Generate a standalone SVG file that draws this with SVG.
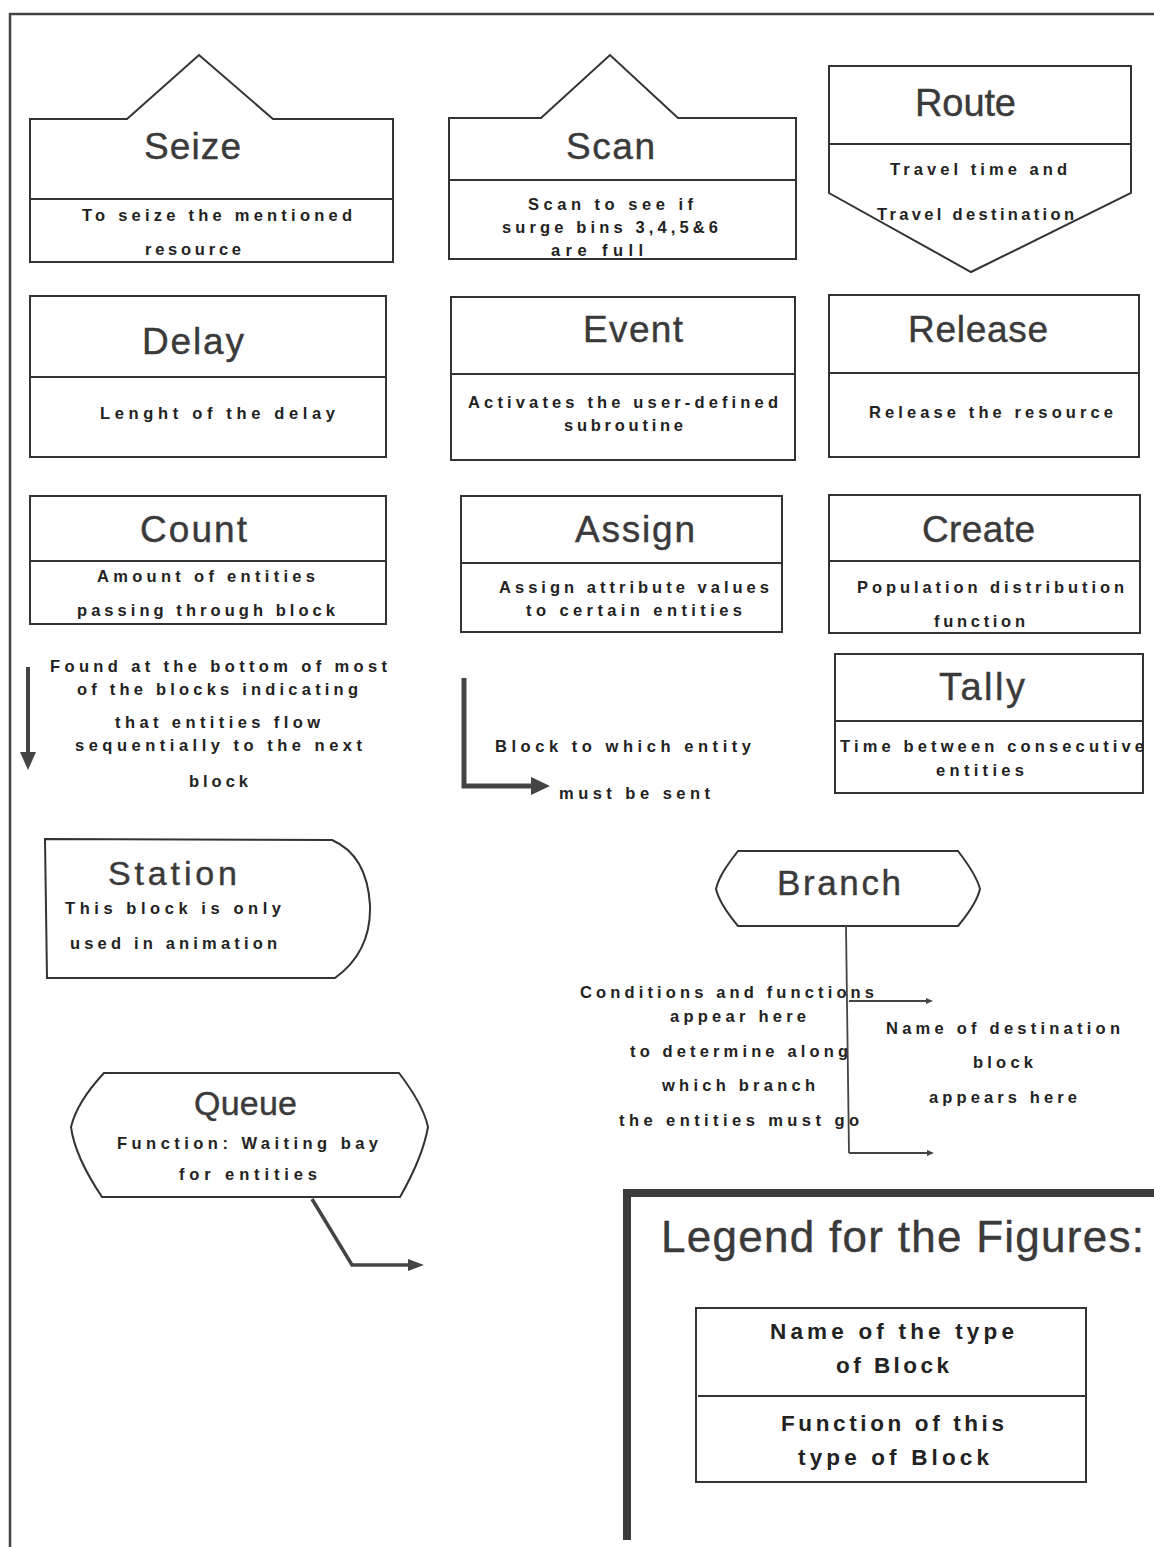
<svg xmlns="http://www.w3.org/2000/svg" width="1154" height="1547" viewBox="0 0 1154 1547">
<style>
.bx{fill:#fff;stroke:#333;stroke-width:2;stroke-linejoin:miter}
.dv{stroke:#333;stroke-width:2;fill:none}
.tt{font-family:"Liberation Sans",Arial,sans-serif;font-size:37px;fill:#3a3a3a;stroke:#3a3a3a;stroke-width:0.4}
.ds{font-family:"Liberation Sans",Arial,sans-serif;font-size:16.5px;font-weight:bold;fill:#222}
.lg{font-family:"Liberation Sans",Arial,sans-serif;font-size:22.5px;font-weight:bold;fill:#222}
.cn{fill:none;stroke:#444;stroke-linejoin:miter}
.ah{fill:#444;stroke:none}
</style>
<rect x="0" y="0" width="1154" height="1547" fill="#fff"/>
<g id="page-frame">
<path d="M10,1547 L10,14 L1154,14" fill="none" stroke="#444" stroke-width="2.5"/>
</g>

<g id="seize">
<path class="bx" d="M30,119 L127,119 L199,55 L273,119 L393,119 L393,262 L30,262 Z"/>
<line class="dv" x1="30" y1="199" x2="393" y2="199"/>
<text class="tt" x="144" y="159" textLength="97" lengthAdjust="spacing">Seize</text>
<text class="ds" x="82" y="221" textLength="270" lengthAdjust="spacing">To seize the mentioned</text>
<text class="ds" x="145" y="255" textLength="96" lengthAdjust="spacing">resource</text>
</g>

<g id="scan">
<path class="bx" d="M449,118 L541,118 L610,55 L678,118 L796,118 L796,259 L449,259 Z"/>
<line class="dv" x1="449" y1="180" x2="796" y2="180"/>
<text class="tt" x="566" y="159" textLength="89" lengthAdjust="spacing">Scan</text>
<text class="ds" x="528" y="210" textLength="165" lengthAdjust="spacing">Scan to see if</text>
<text class="ds" x="502" y="233" textLength="216" lengthAdjust="spacing">surge bins 3,4,5&amp;6</text>
<text class="ds" x="551" y="256" textLength="92" lengthAdjust="spacing">are full</text>
</g>

<g id="route">
<path class="bx" d="M829,66 L1131,66 L1131,193 L971,272 L829,193 Z"/>
<line class="dv" x1="829" y1="144" x2="1131" y2="144"/>
<text class="tt" x="915" y="116" textLength="101" lengthAdjust="spacing" style="font-size:38px">Route</text>
<text class="ds" x="890" y="175" textLength="177" lengthAdjust="spacing">Travel time and</text>
<text class="ds" x="877" y="220" textLength="197" lengthAdjust="spacing">Travel destination</text>
</g>

<g id="delay">
<rect class="bx" x="30" y="296" width="356" height="161"/>
<line class="dv" x1="30" y1="377" x2="386" y2="377"/>
<text class="tt" x="142" y="354" textLength="102" lengthAdjust="spacing">Delay</text>
<text class="ds" x="100" y="419" textLength="235" lengthAdjust="spacing">Lenght of the delay</text>
</g>

<g id="event">
<rect class="bx" x="451" y="297" width="344" height="163"/>
<line class="dv" x1="451" y1="374" x2="795" y2="374"/>
<text class="tt" x="583" y="342" textLength="100" lengthAdjust="spacing">Event</text>
<text class="ds" x="468" y="408" textLength="310" lengthAdjust="spacing">Activates the user-defined</text>
<text class="ds" x="564" y="431" textLength="119" lengthAdjust="spacing">subroutine</text>
</g>

<g id="release">
<rect class="bx" x="829" y="295" width="310" height="162"/>
<line class="dv" x1="829" y1="373" x2="1139" y2="373"/>
<text class="tt" x="908" y="342" textLength="140" lengthAdjust="spacing">Release</text>
<text class="ds" x="869" y="418" textLength="244" lengthAdjust="spacing">Release the resource</text>
</g>

<g id="count">
<rect class="bx" x="30" y="496" width="356" height="128"/>
<line class="dv" x1="30" y1="561" x2="386" y2="561"/>
<text class="tt" x="140" y="542" textLength="107" lengthAdjust="spacing">Count</text>
<text class="ds" x="97" y="582" textLength="218" lengthAdjust="spacing">Amount of entities</text>
<text class="ds" x="77" y="616" textLength="258" lengthAdjust="spacing">passing through block</text>
</g>

<g id="assign">
<rect class="bx" x="461" y="496" width="321" height="136"/>
<line class="dv" x1="461" y1="563" x2="782" y2="563"/>
<text class="tt" x="575" y="542" textLength="120" lengthAdjust="spacing">Assign</text>
<text class="ds" x="499" y="593" textLength="270" lengthAdjust="spacing">Assign attribute values</text>
<text class="ds" x="526" y="616" textLength="216" lengthAdjust="spacing">to certain entities</text>
</g>

<g id="create">
<rect class="bx" x="829" y="495" width="311" height="138"/>
<line class="dv" x1="829" y1="561" x2="1140" y2="561"/>
<text class="tt" x="922" y="542" textLength="113" lengthAdjust="spacing">Create</text>
<text class="ds" x="857" y="593" textLength="267" lengthAdjust="spacing">Population distribution</text>
<text class="ds" x="934" y="627" textLength="91" lengthAdjust="spacing">function</text>
</g>

<g id="tally">
<rect class="bx" x="835" y="654" width="308" height="139"/>
<line class="dv" x1="835" y1="721" x2="1143" y2="721"/>
<text class="tt" x="939" y="700" textLength="86" lengthAdjust="spacing" style="font-size:38px">Tally</text>
<text class="ds" x="840" y="752" textLength="304" lengthAdjust="spacing">Time between consecutive</text>
<text class="ds" x="936" y="776" textLength="88" lengthAdjust="spacing">entities</text>
</g>

<g id="flow-note">
<text class="ds" x="50" y="672" textLength="337" lengthAdjust="spacing">Found at the bottom of most</text>
<text class="ds" x="77" y="695" textLength="281" lengthAdjust="spacing">of the blocks indicating</text>
<text class="ds" x="115" y="728" textLength="205" lengthAdjust="spacing">that entities flow</text>
<text class="ds" x="75" y="751" textLength="287" lengthAdjust="spacing">sequentially to the next</text>
<text class="ds" x="189" y="787" textLength="59" lengthAdjust="spacing">block</text>
</g>

<g id="send-note">
<text class="ds" x="495" y="752" textLength="256" lengthAdjust="spacing">Block to which entity</text>
<text class="ds" x="559" y="799" textLength="151" lengthAdjust="spacing">must be sent</text>
</g>

<g id="station">
<path class="bx" d="M45,839 L332,840 C355,850 368,872 370,905 C371,935 360,960 335,978 L47,978 Z"/>
<text class="tt" x="108" y="885" textLength="129" lengthAdjust="spacing" style="font-size:34px">Station</text>
<text class="ds" x="65" y="914" textLength="216" lengthAdjust="spacing">This block is only</text>
<text class="ds" x="70" y="949" textLength="207" lengthAdjust="spacing">used in animation</text>
</g>

<g id="queue">
<path class="bx" d="M104,1073 L399,1073 C412,1090 424,1108 428,1127 C424,1150 412,1176 400,1197 L102,1197 C88,1176 74,1150 71,1127 C76,1106 90,1088 104,1073 Z"/>
<text class="tt" x="194" y="1115" textLength="103" lengthAdjust="spacing" style="font-size:34px">Queue</text>
<text class="ds" x="117" y="1149" textLength="261" lengthAdjust="spacing">Function: Waiting bay</text>
<text class="ds" x="179" y="1180" textLength="138" lengthAdjust="spacing">for entities</text>
</g>

<g id="branch">
<path class="bx" d="M738,851 L958,851 C968,864 977,877 980,889 C977,902 968,914 958,926 L738,926 C728,914 719,902 716,889 C719,876 728,864 738,851 Z"/>
<text class="tt" x="777" y="895" textLength="124" lengthAdjust="spacing" style="font-size:35px">Branch</text>
</g>

<g id="branch-notes">
<text class="ds" x="580" y="998" textLength="294" lengthAdjust="spacing">Conditions and functions</text>
<text class="ds" x="670" y="1022" textLength="136" lengthAdjust="spacing">appear here</text>
<text class="ds" x="630" y="1057" textLength="218" lengthAdjust="spacing">to determine along</text>
<text class="ds" x="662" y="1091" textLength="153" lengthAdjust="spacing">which branch</text>
<text class="ds" x="619" y="1126" textLength="240" lengthAdjust="spacing">the entities must go</text>
<text class="ds" x="886" y="1034" textLength="234" lengthAdjust="spacing">Name of destination</text>
<text class="ds" x="973" y="1068" textLength="60" lengthAdjust="spacing">block</text>
<text class="ds" x="929" y="1103" textLength="148" lengthAdjust="spacing">appears here</text>
</g>

<g id="connectors">
<line class="cn" x1="28" y1="667" x2="28" y2="755" stroke-width="4"/>
<polygon class="ah" points="20,752 36,752 28,770"/>
<path class="cn" d="M464,678 L464,786 L535,786" stroke="#555" stroke-width="5"/>
<polygon class="ah" points="531,777 550,786 531,795" fill="#555"/>
<path class="cn" d="M312,1199 L352,1265 L410,1265" stroke-width="3.5"/>
<polygon class="ah" points="408,1259 424,1265 408,1271"/>
<path class="cn" d="M846,926 L849,1153" stroke-width="1.8"/>
<line class="cn" x1="849" y1="1001" x2="928" y2="1001" stroke-width="1.8"/>
<polygon class="ah" points="926,998 933,1001 926,1004"/>
<line class="cn" x1="849" y1="1153" x2="929" y2="1153" stroke-width="1.8"/>
<polygon class="ah" points="927,1150 934,1153 927,1156"/>
</g>

<g id="legend">
<path d="M627,1540 L627,1193 L1154,1193" fill="none" stroke="#3c3c3c" stroke-width="8"/>
<text class="tt" x="661" y="1252" textLength="483" lengthAdjust="spacing" style="font-size:44px">Legend for the Figures:</text>
<rect class="bx" x="696" y="1308" width="390" height="174"/>
<line class="dv" x1="698" y1="1396" x2="1086" y2="1396"/>
<text class="lg" x="770" y="1339" textLength="244" lengthAdjust="spacing">Name of the type</text>
<text class="lg" x="836" y="1373" textLength="113" lengthAdjust="spacing">of Block</text>
<text class="lg" x="781" y="1431" textLength="223" lengthAdjust="spacing">Function of this</text>
<text class="lg" x="798" y="1465" textLength="191" lengthAdjust="spacing">type of Block</text>
</g>
</svg>
